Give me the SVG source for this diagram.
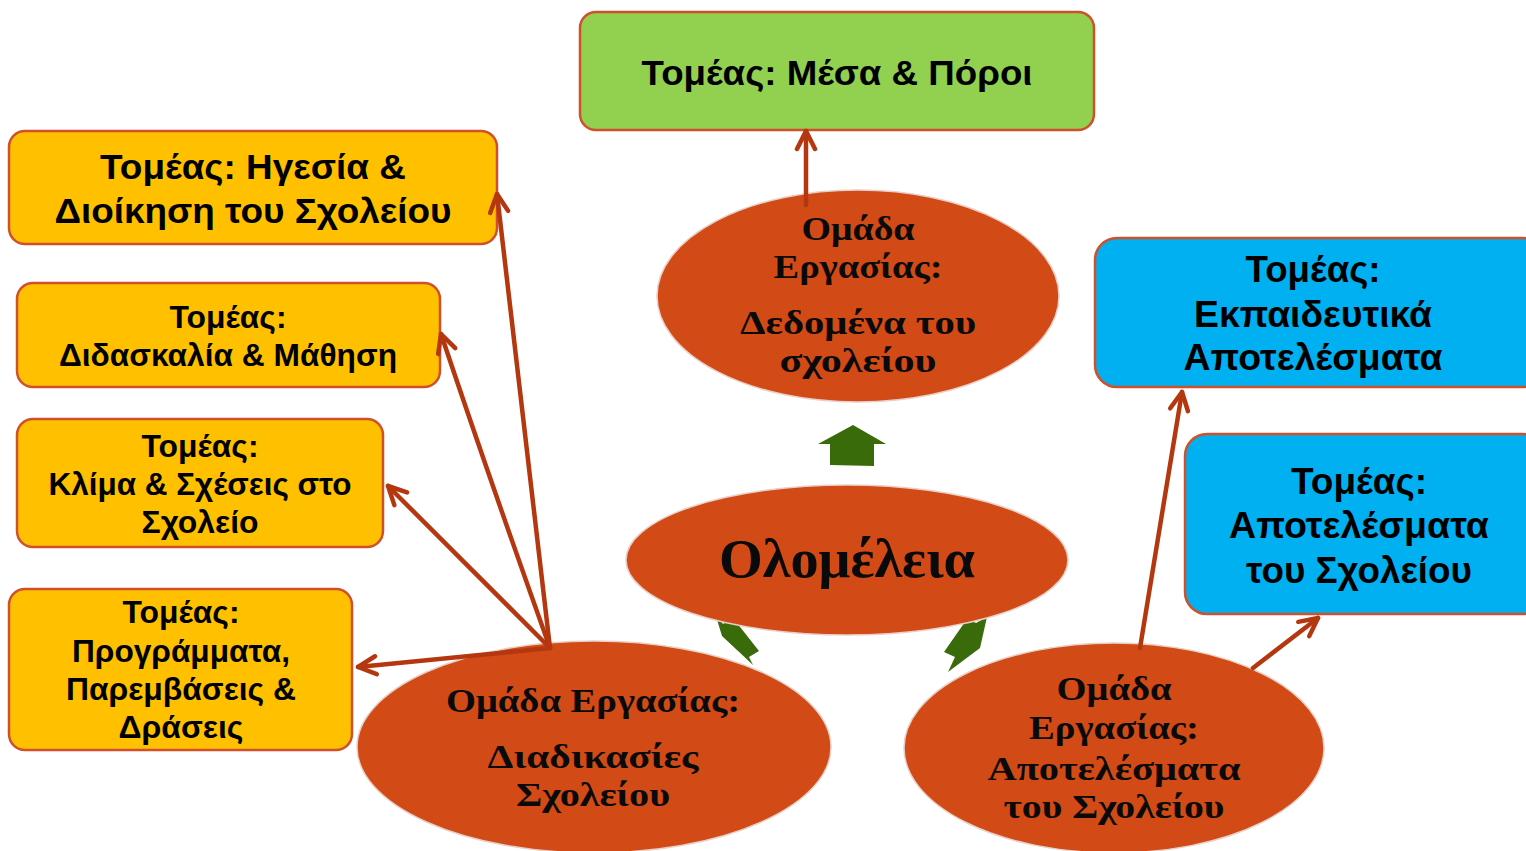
<svg xmlns="http://www.w3.org/2000/svg" width="1526" height="851" viewBox="0 0 1526 851">
<defs>
<style>
.box{stroke:#D0502A;stroke-width:2.5}
.yel{fill:#FFC000}
.blu{fill:#00B0F0}
.grn{fill:#92D050}
.ell{fill:#D24A16;stroke:#E8D0C8;stroke-width:1.5}
.st{font-family:"Liberation Sans",Arial,sans-serif;font-weight:bold;fill:#000;text-anchor:middle}
.sf{font-family:"Liberation Serif","DejaVu Serif",serif;font-weight:bold;fill:#0a0a0a;text-anchor:middle}
.con{stroke:#B5370F;stroke-width:4.5;fill:none;stroke-linecap:round}
.garrow{fill:#3A6B0A}
</style>
<marker id="ah" viewBox="0 0 24 24" refX="21" refY="12" markerWidth="24" markerHeight="24" markerUnits="userSpaceOnUse" orient="auto">
<path d="M3,3 L21,12 L3,21" fill="none" stroke="#B5370F" stroke-width="4.5" stroke-linecap="round" stroke-linejoin="round"/>
</marker>
</defs>
<rect width="1526" height="851" fill="#fff"/>

<g id="green-arrows">
<polygon class="garrow" points="853,425 886,444 874,444 874,466 830,465 830,444 818,444"/>
<polygon class="garrow" points="715,613 723,624 733,618 759,651 749,657 753,665 722,636"/>
<polygon class="garrow" points="987,617 976,623 967,619 944,652 955,657 948,672 980,648"/>
</g>

<g id="node-data">
<ellipse class="ell" cx="858" cy="296" rx="201" ry="106"/>
<text class="sf" x="858" y="240" font-size="34" textLength="113" lengthAdjust="spacingAndGlyphs">Ομάδα</text>
<text class="sf" x="858" y="278" font-size="34" textLength="169" lengthAdjust="spacingAndGlyphs">Εργασίας:</text>
<text class="sf" x="858" y="334" font-size="34" textLength="236" lengthAdjust="spacingAndGlyphs">Δεδομένα του</text>
<text class="sf" x="858" y="372" font-size="34" textLength="157" lengthAdjust="spacingAndGlyphs">σχολείου</text>
</g>

<g id="node-plenary">
<ellipse class="ell" cx="847" cy="560" rx="221" ry="75"/>
<text class="sf" x="847" y="577" font-size="54" textLength="256" lengthAdjust="spacingAndGlyphs">Ολομέλεια</text>
</g>

<g id="node-processes">
<ellipse class="ell" cx="594" cy="747" rx="237" ry="106"/>
<text class="sf" x="593" y="712" font-size="34" textLength="294" lengthAdjust="spacingAndGlyphs">Ομάδα Εργασίας:</text>
<text class="sf" x="593" y="768" font-size="34" textLength="211" lengthAdjust="spacingAndGlyphs">Διαδικασίες</text>
<text class="sf" x="593" y="806" font-size="34" textLength="154" lengthAdjust="spacingAndGlyphs">Σχολείου</text>
</g>

<g id="node-results">
<ellipse class="ell" cx="1114" cy="748" rx="210" ry="105"/>
<text class="sf" x="1114" y="700" font-size="34" textLength="115" lengthAdjust="spacingAndGlyphs">Ομάδα</text>
<text class="sf" x="1114" y="739" font-size="34" textLength="170" lengthAdjust="spacingAndGlyphs">Εργασίας:</text>
<text class="sf" x="1114" y="780" font-size="34" textLength="253" lengthAdjust="spacingAndGlyphs">Αποτελέσματα</text>
<text class="sf" x="1114" y="818" font-size="34" textLength="221" lengthAdjust="spacingAndGlyphs">του Σχολείου</text>
</g>

<g id="node-resources">
<rect class="box grn" x="580" y="12" width="514" height="118" rx="16"/>
<text class="st" x="837" y="85" font-size="35" textLength="391" lengthAdjust="spacingAndGlyphs">Τομέας: Μέσα &amp; Πόροι</text>
</g>

<g id="node-leadership">
<rect class="box yel" x="9" y="131" width="488" height="113" rx="16"/>
<text class="st" x="253" y="179" font-size="35" textLength="306" lengthAdjust="spacingAndGlyphs">Τομέας: Ηγεσία &amp;</text>
<text class="st" x="253" y="223" font-size="35" textLength="397" lengthAdjust="spacingAndGlyphs">Διοίκηση του Σχολείου</text>
</g>

<g id="node-teaching">
<rect class="box yel" x="17" y="283" width="423" height="104" rx="16"/>
<text class="st" x="228" y="328" font-size="31" textLength="117" lengthAdjust="spacingAndGlyphs">Τομέας:</text>
<text class="st" x="228" y="366" font-size="31" textLength="338" lengthAdjust="spacingAndGlyphs">Διδασκαλία &amp; Μάθηση</text>
</g>

<g id="node-climate">
<rect class="box yel" x="17" y="419" width="366" height="128" rx="16"/>
<text class="st" x="200" y="457" font-size="31" textLength="117" lengthAdjust="spacingAndGlyphs">Τομέας:</text>
<text class="st" x="200" y="495" font-size="31" textLength="303" lengthAdjust="spacingAndGlyphs">Κλίμα &amp; Σχέσεις στο</text>
<text class="st" x="200" y="533" font-size="31" textLength="117" lengthAdjust="spacingAndGlyphs">Σχολείο</text>
</g>

<g id="node-programs">
<rect class="box yel" x="9" y="589" width="343" height="161" rx="16"/>
<text class="st" x="181" y="623" font-size="31" textLength="117" lengthAdjust="spacingAndGlyphs">Τομέας:</text>
<text class="st" x="181" y="662" font-size="31" textLength="218" lengthAdjust="spacingAndGlyphs">Προγράμματα,</text>
<text class="st" x="181" y="700" font-size="31" textLength="230" lengthAdjust="spacingAndGlyphs">Παρεμβάσεις &amp;</text>
<text class="st" x="181" y="738" font-size="31" textLength="125" lengthAdjust="spacingAndGlyphs">Δράσεις</text>
</g>

<g id="node-edu-results">
<rect class="box blu" x="1095" y="238" width="450" height="149" rx="22"/>
<text class="st" x="1313" y="282" font-size="36" textLength="135" lengthAdjust="spacingAndGlyphs">Τομέας:</text>
<text class="st" x="1313" y="327" font-size="36" textLength="238" lengthAdjust="spacingAndGlyphs">Εκπαιδευτικά</text>
<text class="st" x="1313" y="370" font-size="36" textLength="259" lengthAdjust="spacingAndGlyphs">Αποτελέσματα</text>
</g>

<g id="node-school-results">
<rect class="box blu" x="1185" y="434" width="360" height="180" rx="22"/>
<text class="st" x="1359" y="494" font-size="36" textLength="136" lengthAdjust="spacingAndGlyphs">Τομέας:</text>
<text class="st" x="1359" y="538" font-size="36" textLength="260" lengthAdjust="spacingAndGlyphs">Αποτελέσματα</text>
<text class="st" x="1359" y="583" font-size="36" textLength="226" lengthAdjust="spacingAndGlyphs">του Σχολείου</text>
</g>

<g id="connectors">
<line class="con" x1="806" y1="205" x2="806" y2="131" marker-end="url(#ah)"/>
<line class="con" x1="550" y1="648" x2="497" y2="194" marker-end="url(#ah)"/>
<path class="con" d="M550,648 Q490,480 441,334" marker-end="url(#ah)"/>
<line class="con" x1="550" y1="648" x2="388" y2="486" marker-end="url(#ah)"/>
<line class="con" x1="550" y1="648" x2="358" y2="667" marker-end="url(#ah)"/>
<line class="con" x1="1140" y1="648" x2="1182" y2="392" marker-end="url(#ah)"/>
<line class="con" x1="1253" y1="668" x2="1318" y2="618" marker-end="url(#ah)"/>
</g>
</svg>
